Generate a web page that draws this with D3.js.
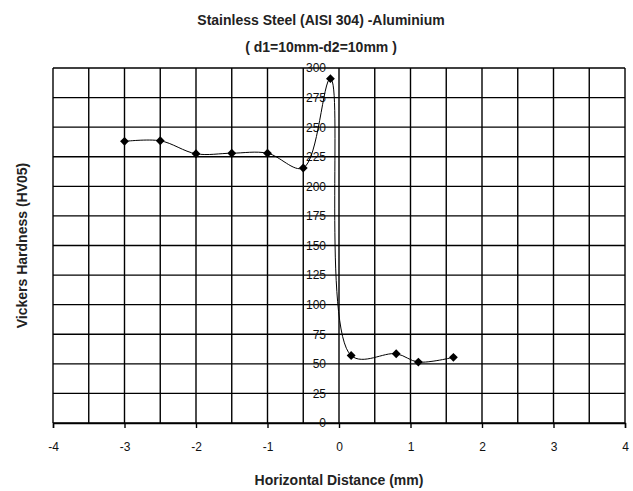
<!DOCTYPE html>
<html>
<head>
<meta charset="utf-8">
<script src="https://cdn.jsdelivr.net/npm/d3@7"></script>
<style>
  body { margin: 0; background: #fff; }
  svg { display: block; font-family: "Liberation Sans", Arial, sans-serif; }
</style>
</head>
<body>
<div id="chart"></div>
<script>
// hardness profile
const distance = [-3, -2.5, -2, -1.5, -1, -0.5, -0.12, 0.17, 0.8, 1.11, 1.6];
const hardness = [238, 238.5, 227.5, 228, 228, 215.5, 291, 57, 58.5, 51.5, 55.5];

const xTicks = [-4, -3, -2, -1, 0, 1, 2, 3, 4];
const xGrid = d3.range(-4, 4.01, 0.5);
const yTicks = d3.range(0, 301, 25);

const titleLines = ["Stainless Steel (AISI 304) -Aluminium", "( d1=10mm-d2=10mm )"];
const xTitle = "Horizontal Distance (mm)";
const yTitle = "Vickers Hardness (HV05)";

const W = 633, H = 491;
const m = { left: 53, right: 8, top: 68, bottom: 68 };

const x = d3.scaleLinear().domain([-4, 4]).range([m.left, W - m.right]);
const y = d3.scaleLinear().domain([0, 300]).range([H - m.bottom, m.top]);

const svg = d3.select("#chart").append("svg")
    .attr("width", W)
    .attr("height", H);

// grid
svg.append("g")
  .selectAll("line")
  .data(xGrid)
  .join("line")
    .attr("x1", d => x(d)).attr("x2", d => x(d))
    .attr("y1", y(0)).attr("y2", y(300))
    .attr("stroke", "#000").attr("stroke-width", 1.4);

svg.append("g")
  .selectAll("line")
  .data(yTicks)
  .join("line")
    .attr("x1", x(-4)).attr("x2", x(4))
    .attr("y1", d => y(d)).attr("y2", d => y(d))
    .attr("stroke", "#000").attr("stroke-width", 1.4);

// x axis at bottom, plain hyphen for negatives like the original
const xAxis = svg.append("g")
    .attr("transform", `translate(0,${y(0)})`)
    .call(d3.axisBottom(x).tickValues(xTicks).tickSize(5).tickPadding(14).tickFormat(d => String(d)));
xAxis.select(".domain").attr("stroke-width", 1.4);
xAxis.selectAll(".tick line").attr("stroke-width", 1.4);
xAxis.selectAll("text").attr("font-size", 12).attr("fill", "#111");

// y axis labels sit at x = 0
const yAxis = svg.append("g")
    .attr("transform", `translate(${x(0)},0)`)
    .call(d3.axisLeft(y).tickValues(yTicks).tickSize(0).tickPadding(13));
yAxis.select(".domain").remove();
yAxis.selectAll("text").attr("font-size", 12).attr("fill", "#111");

// data line
const line = d3.line()
    .x((d, i) => x(distance[i]))
    .y(d => y(d))
    .curve(d3.curveCatmullRom.alpha(0.5));

svg.append("path")
    .datum(hardness)
    .attr("d", line)
    .attr("fill", "none")
    .attr("stroke", "#000")
    .attr("stroke-width", 1);

svg.append("g")
  .selectAll("path")
  .data(hardness)
  .join("path")
    .attr("transform", (d, i) => `translate(${x(distance[i])},${y(d)})`)
    .attr("d", d3.symbol(d3.symbolDiamond2, 50))
    .attr("fill", "#000");

// titles
svg.append("g")
  .selectAll("text")
  .data(titleLines)
  .join("text")
    .attr("x", 321)
    .attr("y", (d, i) => 25 + i * 27)
    .attr("text-anchor", "middle")
    .attr("font-size", 14)
    .attr("font-weight", "bold")
    .attr("fill", "#222")
    .text(d => d);

svg.append("text")
    .attr("x", (x(-4) + x(4)) / 2)
    .attr("y", 485)
    .attr("text-anchor", "middle")
    .attr("font-size", 14)
    .attr("font-weight", "bold")
    .attr("fill", "#222")
    .text(xTitle);

svg.append("text")
    .attr("transform", `translate(27,${(y(0) + y(300)) / 2}) rotate(-90)`)
    .attr("text-anchor", "middle")
    .attr("font-size", 14)
    .attr("font-weight", "bold")
    .attr("fill", "#222")
    .text(yTitle);
</script>
</body>
</html>
